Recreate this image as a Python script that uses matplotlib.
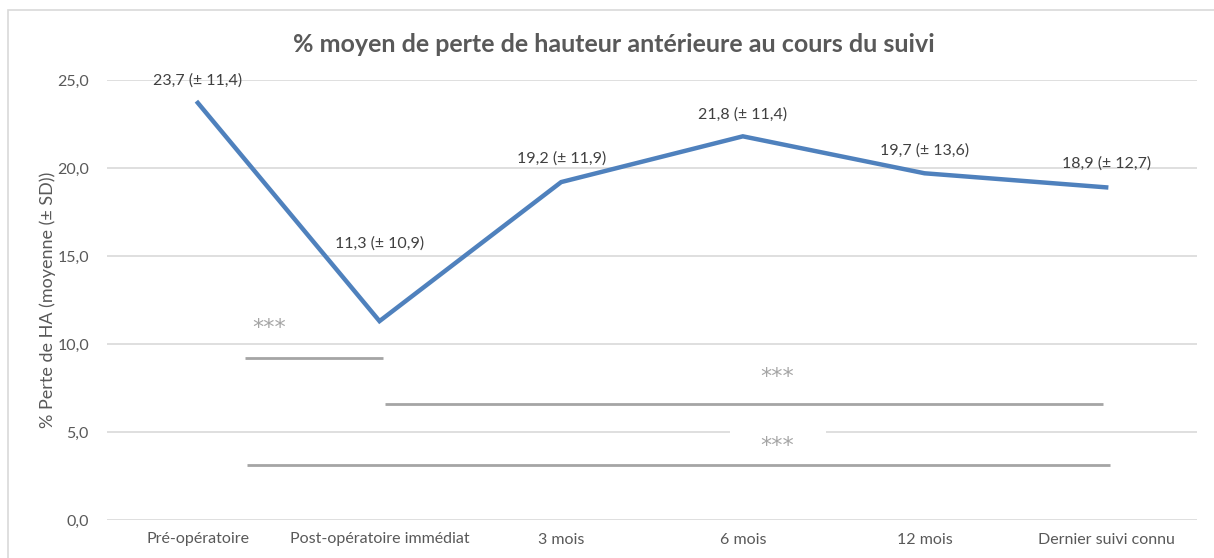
import matplotlib
matplotlib.use("Agg")
import matplotlib.pyplot as plt
from matplotlib.patches import Rectangle

plt.rcParams['font.family'] = ['Lato', 'DejaVu Sans']

categories = ["Pré-opératoire", "Post-opératoire immédiat", "3 mois", "6 mois",
              "12 mois", "Dernier suivi connu"]
means = [23.7, 11.3, 19.2, 21.8, 19.7, 18.9]
sds = [11.4, 10.9, 11.9, 11.4, 13.6, 12.7]
label_offsets = [22, 78, 24, 22, 23, 24]  # label height above point, px

# significance brackets: (x_start, x_end, y_line, x_text, y_text)
brackets = [
    (0.26, 1.02, 9.2, 0.39, 10.9),
    (1.03, 4.98, 6.6, 3.19, 8.1),
    (0.27, 5.02, 3.1, 3.19, 4.2),
]

def fmt(v):
    return f"{v:.1f}".replace(".", ",")

W, H = 1214, 558
fig = plt.figure(figsize=(W / 100, H / 100), dpi=100)
fig.patch.set_facecolor("white")

# outer chart border
fig.patches.append(Rectangle((8 / W, -0.1), 1.2, (H - 10) / H + 0.1,
                             transform=fig.transFigure, fill=False,
                             edgecolor="#D9D9D9", linewidth=1.2))

ax = fig.add_axes([107 / W, (H - 520) / H, 1090 / W, 440 / H])
x = list(range(len(categories)))
ax.set_xlim(-0.5, len(categories) - 0.5)
ax.set_ylim(0, 25)
ax.set_yticks([0, 5, 10, 15, 20, 25])
ax.set_yticklabels([fmt(v) for v in [0, 5, 10, 15, 20, 25]])
ax.set_xticks(x)
ax.set_xticklabels(categories)
ax.tick_params(axis="both", length=0, colors="#595959", labelsize=11.5)
ax.tick_params(axis="x", pad=9)
ax.tick_params(axis="y", pad=13)
ax.grid(axis="y", color="#D9D9D9", linewidth=1.2)
ax.set_axisbelow(True)
for s in ax.spines.values():
    s.set_visible(False)

ax.set_ylabel("% Perte de HA (moyenne (± SD))", color="#595959", fontsize=13,
              labelpad=1)

# white gap in the 5,0 gridline behind the lower annotation
ax.add_patch(Rectangle((2.93, 4.6), 0.53, 0.8, facecolor="white",
                       edgecolor="none", zorder=1.5))

ax.plot(x, means, color="#4F81BD", linewidth=3.2, solid_joinstyle="miter",
        zorder=3)

for xi, m, sd, off in zip(x, means, sds, label_offsets):
    ax.annotate(f"{fmt(m)} (± {fmt(sd)})", (xi, m), xytext=(0, off * 0.72),
                textcoords="offset points", ha="center", va="center",
                fontsize=11.5, color="#404040", zorder=4)

for x0, x1, yl, xt, yt in brackets:
    ax.plot([x0, x1], [yl, yl], color="#A5A5A5", linewidth=2, zorder=2,
            solid_capstyle="butt")
    ax.text(xt, yt, "***", ha="center", va="center", fontsize=16,
            color="#A5A5A5", zorder=2, family="DejaVu Sans")

fig.text(614 / W, (H - 44) / H, "% moyen de perte de hauteur antérieure au cours du suivi",
         ha="center", va="center", fontsize=18, fontweight="bold", color="#595959")

fig.savefig("out.png", dpi=100)
